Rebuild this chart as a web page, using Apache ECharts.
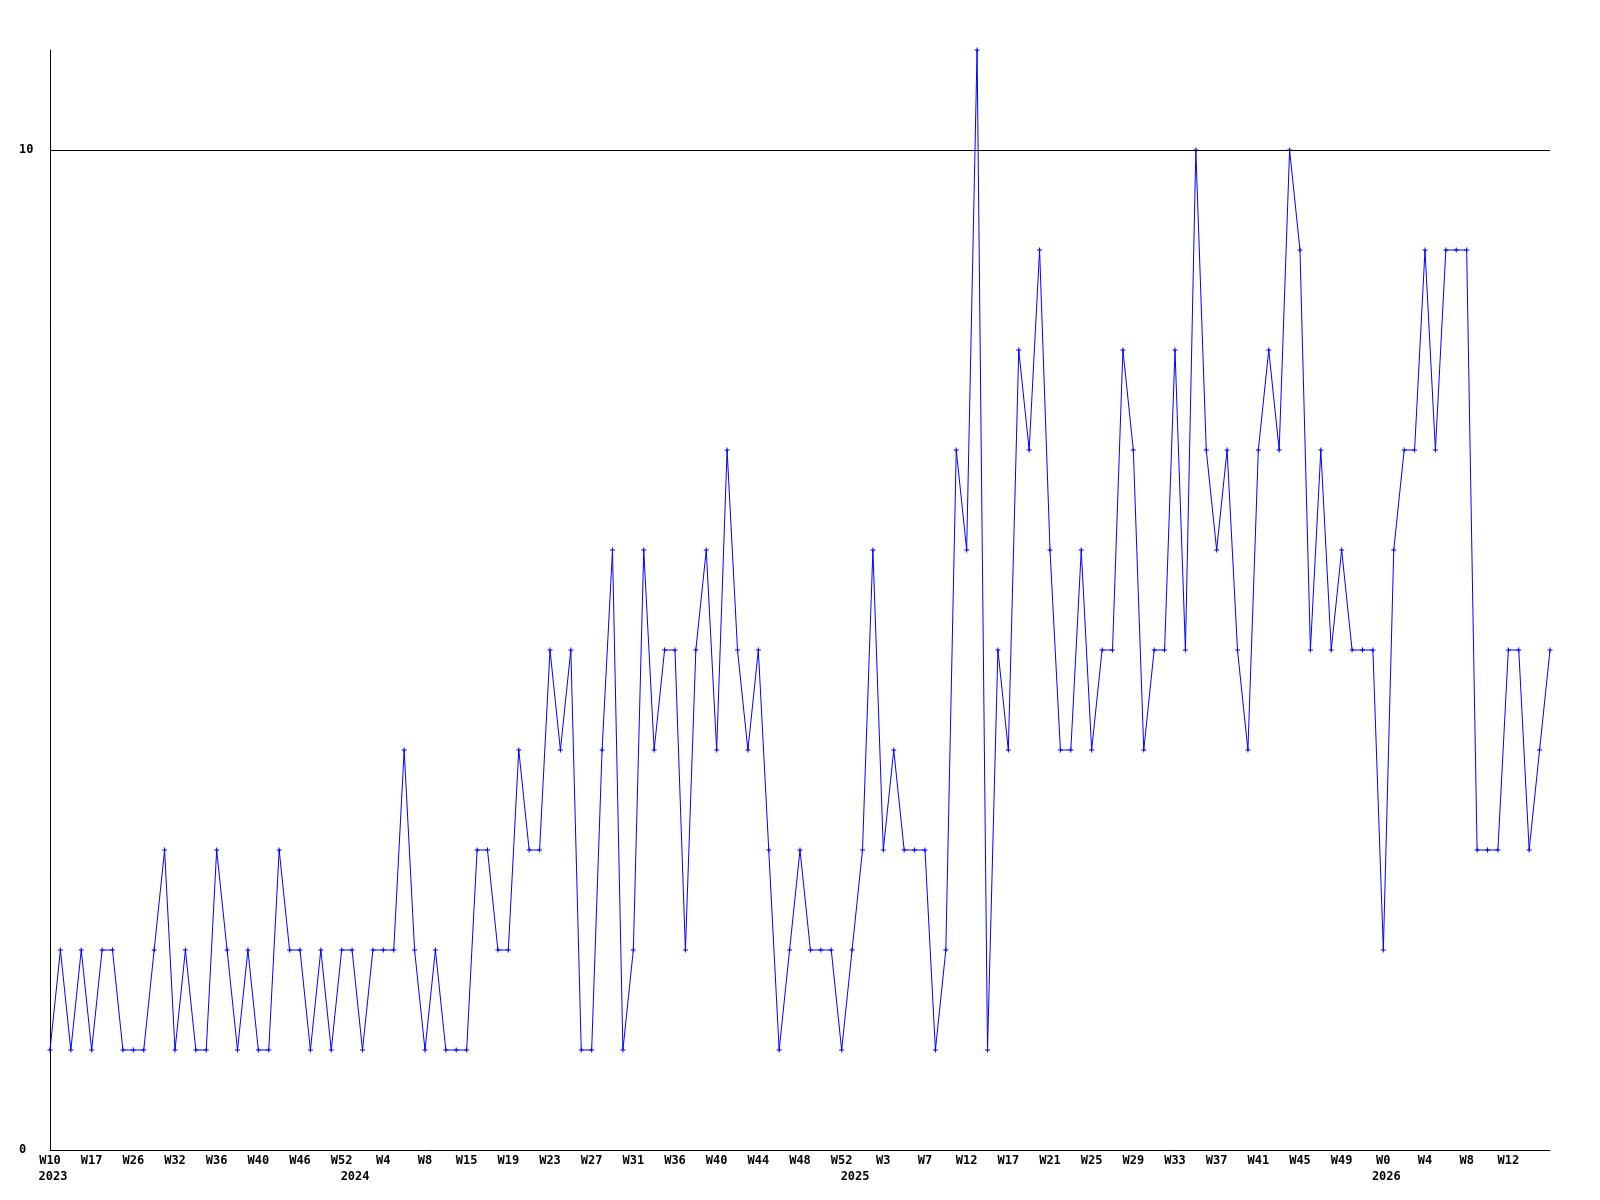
<!DOCTYPE html>
<html>
<head>
<meta charset="utf-8">
<script src="https://cdn.jsdelivr.net/npm/echarts@6/dist/echarts.min.js"></script>
<style>
html,body{margin:0;padding:0;background:#fff;}
#chart{width:1600px;height:1200px;}
</style>
</head>
<body>
<div id="chart"></div>
<script>
// Weekly values (one per point)
const values = [
  1,2,1,2,1,2,2,1,1,1,2,3,1,2,1,1,3,2,1,2,
  1,1,3,2,2,1,2,1,2,2,1,2,2,2,4,2,1,2,1,1,
  1,3,3,2,2,4,3,3,5,4,5,1,1,4,6,1,2,6,4,5,
  5,2,5,6,4,7,5,4,5,3,1,2,3,2,2,2,1,2,3,6,
  3,4,3,3,3,1,2,7,6,11,1,5,4,8,7,9,6,4,4,6,
  4,5,5,8,7,4,5,5,8,5,10,7,6,7,5,4,7,8,7,10,
  9,5,7,5,6,5,5,5,2,6,7,7,9,7,9,9,9,3,3,3,
  5,5,3,4,5
];
// Week tick labels, shown every 4th point
const weekTicks = ["W10","W17","W26","W32","W36","W40","W46","W52","W4","W8","W15","W19",
  "W23","W27","W31","W36","W40","W44","W48","W52","W3","W7","W12","W17",
  "W21","W25","W29","W33","W37","W41","W45","W49","W0","W4","W8","W12"];
const tickStep = 4;
// Year labels and the point index where each year starts
const years = ["2023","2024","2025","2026"];
const yearStart = [0, 29, 77, 128];
const yTicks = [0, 10];

const n = values.length;
const weekCats = [];
const yearCats = [];
for (let i = 0; i < n; i++) {
  weekCats.push(i % tickStep === 0 && weekTicks[i / tickStep] !== undefined ? weekTicks[i / tickStep] : "");
  const k = yearStart.indexOf(i);
  yearCats.push(k >= 0 ? years[k] : "");
}

const font = {fontFamily: "DejaVu Sans Mono", fontWeight: "bold", fontSize: 12, color: "#000"};

const chart = echarts.init(document.getElementById("chart"), null, {renderer: "canvas"});
chart.setOption({
  animation: false,
  backgroundColor: "#fff",
  grid: {left: 50, right: 50, top: 50, bottom: 50, containLabel: false},
  xAxis: [
    {
      type: "category", data: weekCats, boundaryGap: false, position: "bottom",
      axisLine: {show: true, lineStyle: {color: "#000", width: 1}},
      axisTick: {show: false},
      splitLine: {show: false},
      axisLabel: Object.assign({interval: 0, margin: 5}, font)
    },
    {
      type: "category", data: yearCats, boundaryGap: false, position: "bottom", offset: 16,
      min: 0, max: n - 1,
      axisLine: {show: false}, axisTick: {show: false}, splitLine: {show: false},
      axisLabel: Object.assign({interval: 0, margin: 5, padding: [0, 0, 0, 6]}, font)
    }
  ],
  yAxis: {
    type: "value", min: yTicks[0], max: 11, interval: yTicks[1] - yTicks[0],
    axisLine: {show: true, lineStyle: {color: "#000", width: 1}},
    axisTick: {show: false},
    splitLine: {show: false},
    axisLabel: Object.assign({margin: 31, align: "left", showMaxLabel: false}, font)
  },
  series: [
    {
      type: "line", xAxisIndex: 0, yAxisIndex: 0, data: values,
      symbol: "path://M2,0H3V2H5V3H3V5H2V3H0V2H2Z", symbolSize: 5, showAllSymbol: true,
      lineStyle: {color: "#0000ff", width: 1},
      itemStyle: {color: "#0000ff"},
      markLine: {
        silent: true, symbol: ["none", "none"], label: {show: false},
        lineStyle: {color: "#000", width: 1, type: "solid"},
        data: [{yAxis: yTicks[1]}]
      }
    },
    {
      type: "line", xAxisIndex: 1, yAxisIndex: 0, data: values.map(() => null),
      symbol: "none", silent: true, lineStyle: {opacity: 0}
    }
  ]
});
</script>
</body>
</html>
